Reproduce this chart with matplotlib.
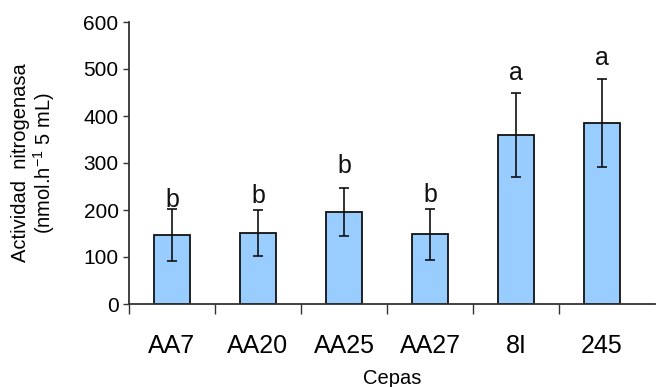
import matplotlib
matplotlib.use("Agg")
import matplotlib.pyplot as plt
import numpy as np

categories = ["AA7", "AA20", "AA25", "AA27", "8I", "245"]
values = [147, 151, 195, 148, 360, 385]
errors = [55, 48, 51, 55, 89, 93]
letters = ["b", "b", "b", "b", "a", "a"]
letter_y = [206, 214, 279, 218, 477, 508]
yticks = [0, 100, 200, 300, 400, 500, 600]

plt.rcParams['font.family'] = ['Liberation Sans', 'DejaVu Sans']
plt.rcParams['mathtext.fontset'] = 'custom'
plt.rcParams['mathtext.rm'] = 'Liberation Sans'
plt.rcParams['mathtext.it'] = 'Liberation Sans:italic'

fig = plt.figure(figsize=(6.56, 3.87), dpi=100)
ax = fig.add_axes([129/656, 1-304/387, (655-129)/656, (304-22)/387])

x = np.arange(len(categories))
ax.bar(x, values, width=0.41, color="#99CCFF", edgecolor="#111111", linewidth=1.3, zorder=2)
ax.errorbar(x, values, yerr=errors, fmt="none", ecolor="#111111", elinewidth=1.2,
            capsize=3.6, capthick=1.2, zorder=3)
for xi, lt, ly in zip(x, letters, letter_y):
    ax.text(xi, ly, lt, ha="center", va="baseline", fontsize=18, color="#111111")

ax.set_xlim(-0.5, 5.5 + 10/86)
ax.set_ylim(0, 600)
ax.set_yticks(yticks)
ax.tick_params(axis='y', labelsize=15, length=4.5, width=1, color="#333333", pad=3)
ax.set_xticks(x)
ax.set_xticklabels(categories)
ax.set_xticks(np.arange(-0.5, 5.0, 1.0), minor=True)
ax.tick_params(axis='x', which='major', length=0, labelsize=18, pad=21.5)
ax.tick_params(axis='x', which='minor', length=7, width=1, color="#333333")

for s in ["top", "right"]:
    ax.spines[s].set_visible(False)
for s in ["left", "bottom"]:
    ax.spines[s].set_color("#333333")
    ax.spines[s].set_linewidth(1.3)

ax.set_xlabel("Cepas", fontsize=14.5)
ax.xaxis.set_label_coords((392-129)/(655-129), -(369-304)/(304-22))
ax.set_ylabel("Actividad  nitrogenasa\n(nmol.h$^{-1}$ 5 mL)", fontsize=14.5, linespacing=1.05)
ax.yaxis.set_label_coords(-(129-57)/(655-129), 0.5)

fig.savefig("out.png", dpi=100)
